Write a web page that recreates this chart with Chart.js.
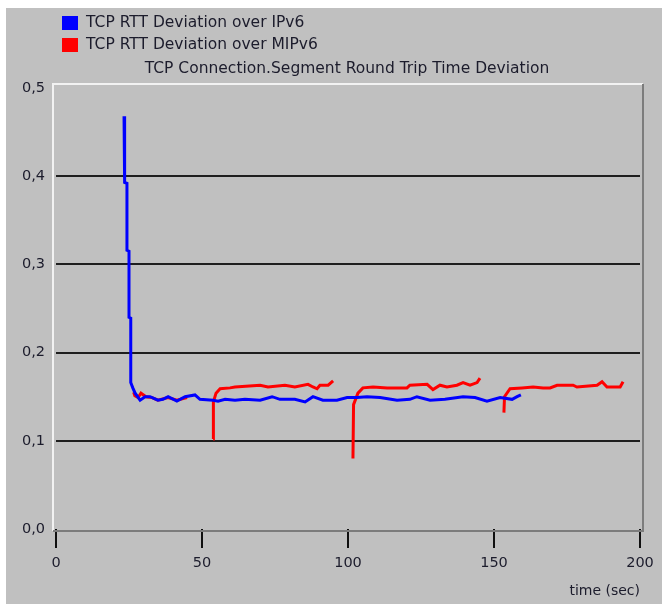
<!DOCTYPE html>
<html>
<head>
<meta charset="utf-8">
<script src="https://cdn.jsdelivr.net/npm/chart.js@4/dist/chart.umd.min.js"></script>
<style>
  html, body { margin: 0; padding: 0; background: #ffffff; }
  #wrap { position: relative; width: 662px; height: 604px; }
</style>
</head>
<body>
<div id="wrap"><canvas id="rtt" width="662" height="604"></canvas></div>
<script>
// Round trip time deviation, TCP over IPv6
const ipv6Time = [23.3, 23.4, 23.6, 24.3, 24.3, 25.0, 25.0, 25.6, 25.6, 26.3, 27.1, 28.8,
  30.5, 32.2, 34.9, 36.6, 38.4, 41.4, 44.2, 47.6, 49.3, 53.8, 55.5, 57.9, 61.3, 64.7,
  69.9, 74.0, 76.7, 81.8, 85.3, 88.0, 91.4, 96.2, 99.7, 103.1, 106.5, 111.0, 116.8,
  121.2, 123.6, 128.1, 133.2, 139.4, 143.5, 147.6, 152.1, 156.2, 157.9, 159.2];
const ipv6Dev = [0.468, 0.430, 0.393, 0.392, 0.316, 0.315, 0.240, 0.239, 0.166, 0.160, 0.154, 0.146,
  0.150, 0.150, 0.146, 0.147, 0.150, 0.145, 0.150, 0.152, 0.147, 0.146, 0.145, 0.147, 0.146, 0.147,
  0.146, 0.150, 0.147, 0.147, 0.144, 0.150, 0.146, 0.146, 0.149, 0.149, 0.150, 0.149, 0.146,
  0.147, 0.150, 0.146, 0.147, 0.150, 0.149, 0.145, 0.149, 0.147, 0.150, 0.152];

// Round trip time deviation, TCP over MIPv6 (null separates the connections)
const mipv6Time = [26.6, 27.0, 28.1, 29.1, 30.8, 32.9, 34.9, 38.4, 41.4, 44.9,
  50.0,
  53.8, 53.9, 54.8, 56.2, 59.6, 61.3, 69.9, 72.6, 78.4, 81.8, 86.3, 88.0, 89.4, 90.4, 93.2, 94.9,
  98.0,
  101.7, 101.9, 103.4, 105.1, 108.6, 113.4, 120.2, 121.2, 127.1, 129.1, 131.5, 133.9, 137.3,
  139.4, 141.8, 144.2, 145.2,
  150.0,
  153.4, 153.6, 155.5, 159.6, 163.4, 166.8, 169.2, 171.6, 177.1, 178.4, 185.3, 187.0, 188.7,
  193.2, 194.2];
const mipv6Dev = [0.155, 0.151, 0.149, 0.154, 0.150, 0.149, 0.146, 0.149, 0.146, 0.149,
  null,
  0.102, 0.144, 0.154, 0.159, 0.160, 0.161, 0.163, 0.161, 0.163, 0.161, 0.164, 0.161, 0.159, 0.163, 0.163, 0.168,
  null,
  0.080, 0.141, 0.154, 0.160, 0.161, 0.160, 0.160, 0.163, 0.164, 0.158, 0.163, 0.161, 0.163,
  0.166, 0.163, 0.166, 0.171,
  null,
  0.132, 0.150, 0.159, 0.160, 0.161, 0.160, 0.160, 0.163, 0.163, 0.161, 0.163, 0.167, 0.161,
  0.161, 0.167];

const seriesNames = ['TCP RTT Deviation over IPv6', 'TCP RTT Deviation over MIPv6'];
const chartTitle = 'TCP Connection.Segment Round Trip Time Deviation';
const xTickValues = [0, 50, 100, 150, 200];
const yTickLabels = ['0,0', '0,1', '0,2', '0,3', '0,4', '0,5'];
const xAxisTitle = 'time (sec)';

const toPoints = (xs, ys) => xs.map((x, i) => ({ x: x, y: ys[i] }));

const FONT = 'DejaVu Sans';
const INK = '#1c1c2c';
const PANEL = '#c0c0c0';

Chart.defaults.font.family = FONT;
Chart.defaults.font.size = 14;
Chart.defaults.color = INK;

// Window background, inset plot frame, legend and title
const frame = {
  id: 'frame',
  beforeDraw(chart) {
    const c = chart.ctx;
    c.save();
    c.fillStyle = '#ffffff';
    c.fillRect(0, 0, chart.width, chart.height);
    c.fillStyle = PANEL;
    c.fillRect(6, 8, chart.width - 6, chart.height - 8);
    c.restore();
  },
  beforeDatasetsDraw(chart) {
    const a = chart.chartArea;
    const c = chart.ctx;
    const l = a.left - 3, t = a.top - 4, r = a.right + 3, b = a.bottom + 2;
    c.save();
    c.lineWidth = 2;
    c.strokeStyle = '#f2f2f2';
    c.beginPath();
    c.moveTo(l, b); c.lineTo(l, t); c.lineTo(r, t);
    c.stroke();
    c.strokeStyle = '#7c7c7c';
    c.beginPath();
    c.moveTo(r, t); c.lineTo(r, b); c.lineTo(l, b);
    c.stroke();
    c.restore();
  },
  afterDraw(chart) {
    const c = chart.ctx;
    c.save();
    c.font = '15.5px ' + FONT;
    c.textBaseline = 'middle';
    c.textAlign = 'left';
    chart.data.datasets.forEach((ds, i) => {
      const cy = 23 + i * 22;
      c.fillStyle = ds.borderColor;
      c.fillRect(62, cy - 7, 16, 14);
      c.fillStyle = INK;
      c.fillText(ds.label, 86, cy);
    });
    c.textAlign = 'center';
    c.fillText(chartTitle, 347, 69);
    c.restore();
  }
};

new Chart(document.getElementById('rtt'), {
  type: 'line',
  data: {
    datasets: [
      {
        label: seriesNames[0],
        data: toPoints(ipv6Time, ipv6Dev),
        borderColor: '#0000ff',
        borderWidth: 3,
        pointRadius: 0,
        tension: 0,
        order: 1
      },
      {
        label: seriesNames[1],
        data: toPoints(mipv6Time, mipv6Dev),
        borderColor: '#ff0000',
        borderWidth: 3,
        pointRadius: 0,
        tension: 0,
        spanGaps: false,
        order: 2
      }
    ]
  },
  options: {
    responsive: false,
    animation: false,
    events: [],
    layout: { padding: { top: 88, right: 22, left: 0, bottom: 0 } },
    plugins: {
      legend: { display: false },
      title: { display: false },
      tooltip: { enabled: false }
    },
    scales: {
      x: {
        type: 'linear',
        min: 0,
        max: 200,
        afterBuildTicks(scale) {
          scale.ticks = xTickValues.map(v => ({ value: v }));
        },
        afterFit(scale) { scale.height = 75; },
        border: { display: false },
        grid: {
          drawOnChartArea: false,
          drawTicks: true,
          tickLength: 19,
          color: '#101010',
          lineWidth: 2
        },
        ticks: {
          padding: 7,
          maxRotation: 0,
          color: INK,
          font: { size: 14.5 }
        },
        title: {
          display: true,
          text: xAxisTitle,
          align: 'end',
          color: INK,
          font: { size: 14 },
          padding: { top: 0, bottom: 4 }
        }
      },
      y: {
        type: 'linear',
        min: 0,
        max: 0.5,
        afterBuildTicks(scale) {
          scale.ticks = yTickLabels.map((_, i) => ({ value: i / 10 }));
        },
        afterFit(scale) { scale.width = 56; },
        border: { display: false },
        grid: {
          drawTicks: false,
          lineWidth: 2,
          color: ctx => (ctx.index === 0 || ctx.index === yTickLabels.length - 1) ? 'rgba(0,0,0,0)' : '#1e1e1e'
        },
        ticks: {
          padding: 11,
          color: INK,
          font: { size: 14.5 },
          callback: (value, index) => yTickLabels[index]
        }
      }
    }
  },
  plugins: [frame]
});
</script>
</body>
</html>
